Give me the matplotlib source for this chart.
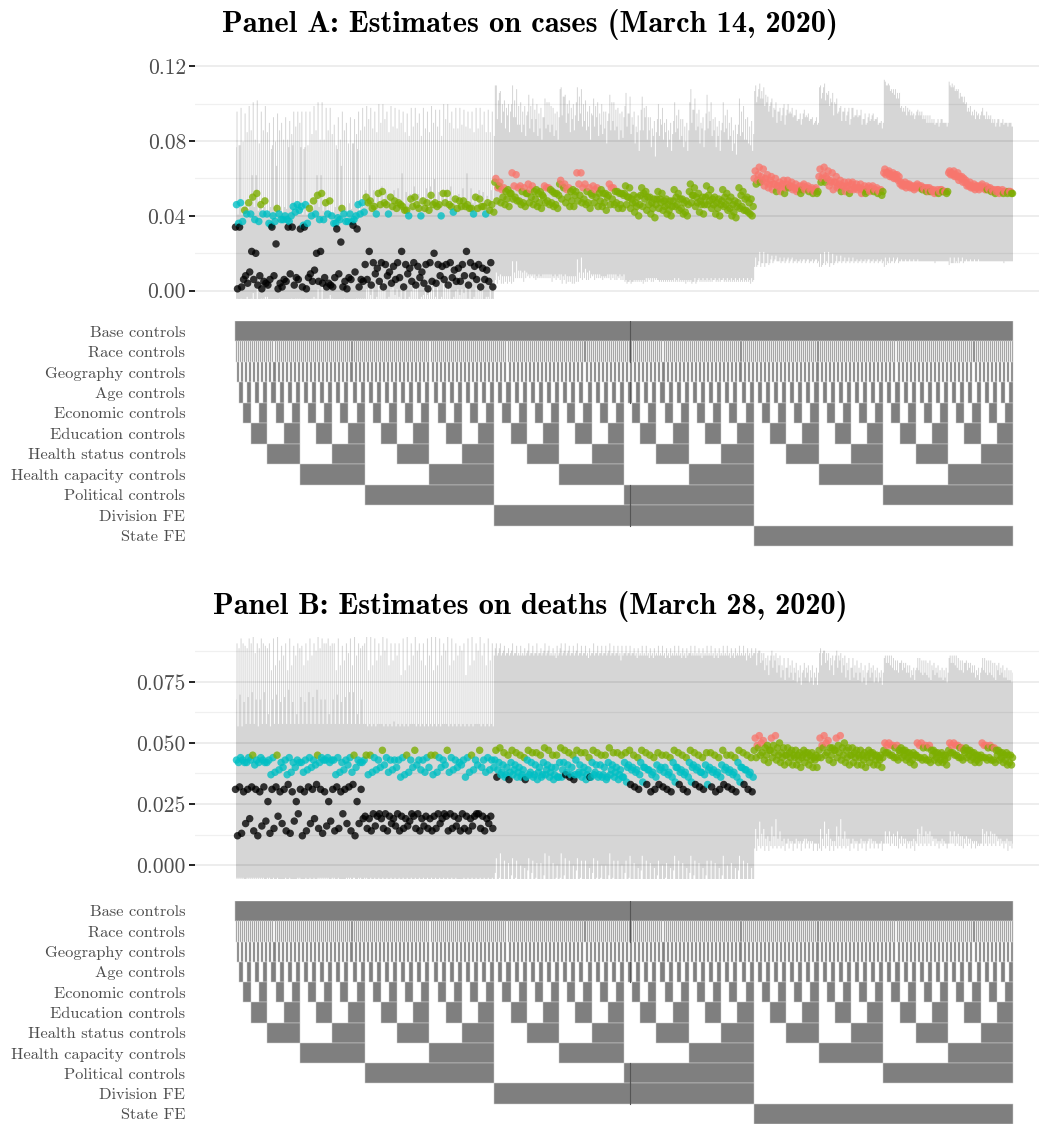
import numpy as np
import matplotlib.pyplot as plt

plt.rcParams["axes.unicode_minus"] = False

# ---------------- labels ----------------
controls = ["Base controls", "Race controls", "Geography controls", "Age controls",
            "Economic controls", "Education controls", "Health status controls",
            "Health capacity controls", "Political controls", "Division FE", "State FE"]
titles = ["Panel A: Estimates on cases (March 14, 2020)",
          "Panel B: Estimates on deaths (March 28, 2020)"]
ticks_a = [0.00, 0.04, 0.08, 0.12]
ticklabels_a = ["0.00", "0.04", "0.08", "0.12"]
minor_a = [0.02, 0.06, 0.10]
ticks_b = [0.000, 0.025, 0.050, 0.075]
ticklabels_b = ["0.000", "0.025", "0.050", "0.075"]
minor_b = [0.0125, 0.0375, 0.0625, 0.0875]

sig_colors = {"k": "#000000", "b": "#00BFC4", "g": "#7CAE00", "r": "#F8766D"}

# ---------------- data (x1000) ----------------
# each third (no FE / Division FE / State FE) has 256 specs; specs cycle through
# (no race, no geo), (race), (geo), (race + geo) -> four sub-lists of 64
# est = point estimate, ci = half width of 95% interval, sig = k/b/g/r (n.s., 10%, 5%, 1%)

a1_est = [
    [34,34,6,4,21,20,8,5,3,34,25,4,6,34,34,7,
     33,34,7,5,20,21,7,4,2,33,26,5,7,35,33,6,
     14,21,15,12,15,14,10,13,15,21,14,12,15,13,10,14,
     15,20,14,13,14,15,11,12,14,21,15,13,14,12,11,15],
    [46,47,43,47,50,52,46,48,36,40,44,38,40,37,45,46,
     45,46,44,48,51,52,47,48,36,39,44,37,41,38,46,47,
     50,48,45,52,53,46,50,48,47,45,43,49,50,44,48,47,
     51,47,46,52,52,45,49,48,48,46,44,50,49,45,47,46],
    [1,2,8,10,6,3,1,4,6,8,1,2,5,9,3,6,
     2,1,9,11,5,4,2,3,7,9,2,1,6,10,2,5,
     6,3,9,5,2,8,4,6,7,2,9,5,3,7,4,1,
     5,4,8,6,3,7,5,5,8,3,8,6,2,6,5,2],
    [36,37,41,41,38,37,41,41,35,37,41,38,38,40,42,43,
     35,36,40,41,38,38,41,40,36,38,41,37,37,40,41,42,
     47,44,41,46,47,41,45,44,46,43,40,45,46,40,44,43,
     46,45,40,47,46,42,44,45,45,44,41,44,45,41,43,42],
]
a1_ci = [
    [43,44,39,40,41,42,39,40,39,44,42,40,39,43,44,40,
     44,43,40,39,42,41,40,39,40,43,41,39,40,44,43,39,
     40,41,39,40,41,39,40,41,40,42,39,40,41,39,40,41,
     41,40,39,41,40,41,39,40,41,42,40,39,40,41,40,39],
    [50,51,52,52,51,50,50,51,54,53,51,52,53,54,51,50,
     51,50,52,51,50,49,51,50,53,54,52,53,52,54,50,51,
     49,50,51,48,47,50,49,50,50,51,52,49,48,51,50,49,
     48,50,51,48,48,51,49,50,49,50,52,48,49,51,50,50],
    [40,39,38,37,39,40,41,38,39,37,41,40,39,36,40,39,
     39,40,37,36,40,39,41,39,38,36,40,41,38,35,41,40,
     41,42,38,40,43,39,41,40,39,43,38,40,42,39,41,43,
     40,41,39,41,42,40,40,41,38,42,39,40,43,40,41,42],
    [42,43,44,45,43,42,45,44,41,43,45,43,43,44,46,47,
     41,42,44,45,43,43,45,44,42,43,45,42,42,44,45,46,
     45,43,44,44,45,44,43,43,44,42,43,43,44,43,43,42,
     44,43,43,45,44,45,43,44,43,43,44,43,44,44,42,41],
]
a1_sig = [
    "kkkkkkkkkkkkkkkk kkkkkkkkkkkkkkkk kkkkkkkkkkkkkkkk kkkkkkkkkkkkkkkk",
    "bbggggggbbgbbbbb bbggggggbbgbbbbb gggggggggggggggg gggggggggggggggg",
    "kkkkkkkkkkkkkkkk kkkkkkkkkkkkkkkk kkkkkkkkkkkkkkkk kkkkkkkkkkkkkkkk",
    "bbbbbbbbbbbbbbbb bbbbbbbbbbbbbbbb ggbggbggggbggbgg ggbggbggggbggbgg",
]

a2_est = [
    [58,56,50,49,52,50,48,47,52,50,49,47,50,48,47,46,
     57,55,50,48,53,51,49,47,51,50,48,47,51,49,47,46,
     52,50,47,45,51,49,46,44,49,47,45,43,48,46,44,42,
     53,51,47,46,50,48,46,44,48,46,44,42,47,45,43,41],
    [60,58,55,54,63,62,56,55,57,56,54,53,56,55,53,52,
     59,57,55,54,63,63,57,55,56,55,54,52,57,55,53,52,
     56,55,51,50,55,53,50,49,53,52,49,48,54,52,49,48,
     57,55,52,50,56,54,50,49,54,52,50,48,55,53,50,49],
    [48,47,46,45,49,48,46,45,47,46,45,44,47,46,45,44,
     49,47,45,45,48,47,46,44,47,45,45,43,46,46,44,44,
     46,44,42,40,45,43,41,39,44,43,41,40,45,43,41,40,
     47,45,42,41,46,44,41,40,45,43,40,39,44,43,42,40],
    [55,54,53,52,56,55,53,52,54,53,52,51,55,54,52,51,
     56,54,53,51,57,55,53,52,54,52,52,50,55,53,52,51,
     50,49,47,46,52,50,47,46,49,48,46,45,50,49,47,46,
     51,50,48,46,51,49,47,46,50,48,46,45,51,49,47,45],
]
a2_ci = [
    [52,50,46,45,48,43,41,42,44,42,43,40,43,41,42,40,
     51,49,45,44,48,44,42,41,43,43,41,40,44,42,41,40,
     47,45,42,40,46,44,40,39,43,42,40,38,43,41,39,38,
     48,46,41,41,45,43,40,39,42,41,39,37,42,40,38,37],
    [50,49,47,46,47,46,45,44,48,47,46,45,47,46,45,44,
     50,48,47,46,46,45,45,44,47,46,46,44,48,46,45,44,
     50,49,45,44,49,46,43,42,47,46,43,42,47,45,43,42,
     51,48,45,43,49,47,43,42,47,45,43,41,48,46,43,42],
    [44,43,41,40,44,41,39,38,40,39,38,37,40,39,38,37,
     45,43,40,41,43,41,40,37,41,38,39,36,40,40,37,38,
     42,40,37,35,41,38,36,33,39,38,36,35,40,38,36,35,
     43,41,37,36,41,39,36,35,40,38,35,34,39,38,37,35],
    [47,46,45,44,46,44,43,42,45,44,43,42,46,45,43,42,
     48,46,45,43,47,45,43,43,45,43,44,41,46,44,43,42,
     45,44,41,40,46,43,40,39,43,42,40,39,44,43,41,40,
     46,45,42,40,45,43,41,40,44,42,40,39,45,43,41,39],
]
a2_sig = [
    "gggggggggggggggg gggggggggggggggg gggggggggggggggg gggggggggggggggg",
    "rrrgrrrrrrggrrgg rrrgrrrrrrggrrgg gggggggggggggggg gggggggggggggggg",
    "gggggggggggggggg gggggggggggggggg gggggggggggggggg gggggggggggggggg",
    "rrggrrggrgggrggg rrggrrggrgggrggg gggggggggggggggg gggggggggggggggg",
]

a3_est = [
    [60,62,59,58,59,57,56,57,57,56,55,54,56,55,54,54,
     61,62,60,58,58,57,56,56,57,55,55,54,55,55,54,53,
     63,63,61,60,57,56,56,55,56,55,54,53,53,53,54,53,
     63,62,61,60,58,56,55,55,56,54,54,53,54,53,53,53],
    [64,66,65,62,61,60,58,59,59,58,57,56,57,56,55,55,
     65,66,64,63,61,59,58,58,58,57,57,56,56,56,55,54,
     65,64,63,62,58,58,57,56,57,56,55,55,54,54,54,53,
     64,64,63,61,59,58,57,56,57,56,55,54,54,54,53,53],
    [57,58,56,55,54,53,53,52,55,54,53,52,54,53,52,52,
     58,58,56,54,55,53,53,52,54,54,52,52,53,53,52,51,
     62,61,60,59,56,55,55,54,55,54,53,53,52,52,53,52,
     62,61,59,58,56,55,54,54,55,54,53,52,52,52,52,52],
    [59,61,60,57,57,56,55,55,56,55,54,54,55,54,53,53,
     60,61,59,58,56,56,55,54,55,55,54,53,54,54,53,53,
     63,62,62,61,57,57,56,55,56,55,55,54,53,53,53,53,
     63,62,61,60,57,56,56,55,55,55,54,53,53,53,53,52],
]
a3_ci = [
    [47,46,44,43,42,40,40,41,40,39,39,38,39,38,38,37,
     48,47,45,43,42,41,40,40,41,39,39,38,38,39,38,37,
     50,48,45,43,41,40,40,39,40,39,38,37,37,37,38,37,
     49,47,46,44,42,40,39,39,40,38,38,37,38,37,37,37],
    [46,45,44,42,42,41,40,41,41,40,40,39,40,39,38,38,
     45,45,43,43,42,40,40,40,40,40,40,39,39,39,38,37,
     47,46,45,44,41,41,40,39,40,40,39,39,38,38,38,37,
     46,46,45,43,42,41,40,39,41,40,39,38,38,38,37,37],
    [44,45,43,41,39,37,38,37,40,39,38,37,39,38,37,37,
     45,44,43,40,40,38,38,37,39,39,37,37,38,38,37,36,
     48,46,45,44,40,39,39,38,39,38,37,37,37,36,37,36,
     47,46,44,43,40,39,38,38,39,38,37,36,36,37,36,36],
    [45,46,45,42,41,40,39,39,40,39,38,38,39,38,37,37,
     46,45,44,43,40,40,39,38,39,39,38,37,38,38,37,37,
     47,46,46,45,41,41,40,39,40,39,39,38,37,37,37,37,
     48,46,45,44,41,40,40,39,39,39,38,37,37,37,37,36],
]
a3_sig = [
    "rrrrrrrrrrrrrrrr rrrrrrrrrrrrrrrr rrrrrrrrrrrrrrrr rrrrrrrrrrrrrrrr",
    "rrrrrrrrrrrrrrrr rrrrrrrrrrrrrrrr rrrrrrrrrrrrrrrr rrrrrrrrrrrrrrrr",
    "ggrrrgrggrrgrggg ggrrrgrgrrrgrggg rrrrrrrrrgggrggg rrrrrrrrrgggrggg",
    "rrrrrrrrrrrgrrrg rrrrrrrrrrrgrrrg rrrrrrrrrrrrrrgg rrrrrrrrrrrrrrgg",
]

b1_est = [
    [31,32,30,31,32,31,30,32,26,31,32,30,31,33,30,26,
     31,30,32,31,33,31,30,26,31,32,30,31,32,33,26,31,
     20,19,21,20,19,21,20,19,21,20,19,18,20,21,19,20,
     19,20,21,19,20,21,20,19,21,20,19,20,21,20,19,20],
    [43,44,42,44,45,43,44,42,43,44,45,42,43,44,42,43,
     42,43,44,43,45,44,43,42,43,44,42,43,44,45,43,42,
     45,45,44,43,47,44,43,43,43,44,45,43,47,43,43,44,
     45,45,44,43,47,44,43,42,43,44,45,43,47,43,44,43],
    [12,13,17,19,14,12,16,18,13,15,20,17,14,13,18,21,
     12,14,17,19,15,13,16,18,14,15,21,17,14,12,17,19,
     15,14,16,21,15,14,17,16,14,15,16,21,15,14,16,15,
     14,15,17,21,14,15,16,14,15,14,16,21,15,14,17,15],
    [42,43,42,43,41,42,43,42,37,38,39,40,37,38,40,42,
     38,39,40,41,42,43,44,43,37,38,39,41,38,40,42,43,
     37,38,39,40,41,38,39,40,36,37,38,40,41,39,38,40,
     37,38,40,41,38,39,40,41,36,38,39,41,40,38,39,40],
]
b1_ci = [
    [37,38,37,38,39,37,38,39,36,37,38,37,38,39,37,36,
     38,37,39,38,39,37,38,36,37,38,37,38,39,38,36,37,
     38,39,37,38,39,37,38,40,37,38,39,40,38,37,39,38,
     39,38,37,39,38,37,38,39,37,38,39,38,37,38,39,38],
    [48,49,48,49,50,48,49,48,48,49,50,48,48,49,48,48,
     48,48,49,48,50,49,48,48,48,49,48,48,49,50,48,48,
     50,50,49,48,52,49,48,48,48,49,50,48,52,48,48,49,
     50,50,49,48,52,49,48,48,48,49,50,48,52,48,49,48],
    [45,44,41,39,44,45,42,40,44,43,38,41,44,45,40,37,
     46,44,41,39,43,45,42,40,44,43,37,41,44,46,41,39,
     42,43,41,37,42,43,40,41,43,42,41,37,42,43,41,42,
     43,42,40,37,43,42,41,43,42,43,41,37,42,43,40,42],
    [47,48,47,48,46,47,48,47,43,44,45,46,43,44,46,47,
     44,45,46,47,47,48,49,48,43,44,45,46,44,46,47,48,
     43,44,45,46,47,44,45,46,42,43,44,46,47,45,44,46,
     43,44,46,47,44,45,46,47,42,44,45,47,46,44,45,46],
]
b1_sig = [
    "kkkkkkkkkkkkkkkk kkkkkkkkkkkkkkkk kkkkkkkkkkkkkkkk kkkkkkkkkkkkkkkk",
    "bbbbgbbbbbgbbbbb bbbbgbbbbbbbbgbb ggbbgbbbbbgbgbbb ggbbgbbbbbgbgbbb",
    "kkkkkkkkkkkkkkkk kkkkkkkkkkkkkkkk kkkkkkkkkkkkkkkk kkkkkkkkkkkkkkkk",
    "bbbbbbbbbbbbbbbb bbbbbbbbbbbbbbbb bbbbbbbbbbbbbbbb bbbbbbbbbbbbbbbb",
]

b2_est = [
    [43,42,41,40,42,41,40,39,43,42,41,40,42,41,40,40,
     42,42,41,40,43,41,40,39,42,41,41,40,42,41,40,39,
     42,41,40,39,42,40,39,38,41,40,40,38,42,40,39,38,
     42,41,40,38,41,40,39,38,41,40,39,38,42,40,39,38],
    [47,48,46,45,47,46,45,44,47,46,46,45,48,47,45,45,
     48,47,46,45,47,46,46,44,47,46,45,45,48,46,46,45,
     46,47,45,44,47,46,45,44,46,45,45,44,47,46,45,44,
     47,46,45,44,46,46,45,44,47,45,45,44,47,46,45,44],
    [36,37,36,35,37,36,36,35,37,36,35,36,37,36,35,36,
     36,37,36,35,37,36,35,36,37,36,36,35,37,36,35,36,
     34,33,32,31,34,33,30,31,33,32,31,30,34,33,31,30,
     34,33,32,31,33,32,30,31,33,32,31,30,34,33,31,30],
    [39,38,37,38,39,38,37,36,38,37,38,37,39,38,37,36,
     39,38,37,37,38,38,37,36,38,37,37,36,39,38,37,36,
     40,39,38,37,40,39,37,36,39,38,37,36,40,38,37,36,
     40,39,38,37,39,38,37,36,39,38,37,36,40,39,37,36],
]
b2_ci = [
    [46,47,47,47,46,46,46,47,45,45,46,47,46,47,46,45,
     47,46,47,47,45,46,47,46,45,46,46,47,46,46,47,45,
     45,46,47,46,44,46,46,47,45,46,45,47,44,46,46,47,
     45,45,46,47,45,46,46,47,45,46,46,47,44,46,45,47],
    [44,43,44,44,44,44,45,45,44,44,45,44,43,43,44,45,
     43,44,44,45,44,44,44,45,44,44,45,45,43,44,44,45,
     44,43,44,45,43,44,44,45,44,45,44,45,43,44,44,45,
     43,44,44,45,44,44,44,45,43,45,44,45,43,44,44,45],
    [50,49,50,51,49,50,50,51,49,50,51,50,49,50,51,50,
     50,49,50,51,49,50,51,50,49,50,50,51,49,50,51,50,
     52,53,54,55,52,53,56,55,53,54,55,56,52,53,55,56,
     52,53,54,55,53,54,56,55,53,54,55,56,52,53,55,56],
    [48,49,50,49,48,49,50,51,49,50,49,50,48,49,50,51,
     48,49,50,50,49,49,50,51,49,50,50,51,48,49,50,51,
     47,48,49,50,47,48,50,51,48,49,50,51,47,49,50,51,
     47,48,49,50,48,49,50,51,48,49,50,51,47,48,50,51],
]
b2_sig = [
    "bbbbbbbbbbbbbbbb bbbbbbbbbbbbbbbb bbbbbbbbbbbbbbbb bbbbbbbbbbbbbbbb",
    "gggggggggggggggg gggggggggggggggg gggggggggggggggg gggggggggggggggg",
    "kbbkbbbkbbbbbbbb bkkkbbbkbbbbbbbb bkkkbkkkkkkkbkkk bkkkbkkkkkkkbkkk",
    "bbbbbbbbbbbbbbbb bbbbbbbbbbbbbbbb bbbbbbbbbbbbbbbb bbbbbbbbbbbbbbbb",
]

b3_est = [
    [47,48,46,45,47,46,45,44,45,44,44,43,45,44,43,43,
     47,48,46,45,47,46,45,44,45,44,44,43,45,44,43,43,
     47,46,45,44,46,45,44,43,45,44,44,43,45,44,43,43,
     47,46,45,44,46,45,44,43,45,44,44,43,45,44,43,42],
    [52,53,51,49,52,53,50,48,48,47,47,46,47,46,46,45,
     52,53,51,48,52,53,50,48,48,47,47,46,47,46,45,45,
     50,50,49,49,48,47,46,46,50,50,49,49,47,46,46,45,
     50,50,49,48,48,47,46,45,50,49,49,48,47,46,46,45],
    [44,45,43,42,44,43,42,41,42,41,41,40,42,41,40,40,
     44,45,43,42,44,43,42,41,42,41,41,40,42,41,41,40,
     46,45,44,43,44,43,42,41,44,43,43,42,43,42,42,41,
     46,45,44,43,44,43,42,42,44,43,43,42,43,42,41,41],
    [49,50,48,47,49,48,46,45,46,45,45,44,46,45,44,44,
     49,50,48,47,49,48,47,45,46,45,45,44,46,45,44,44,
     49,49,48,47,47,46,45,45,49,48,48,47,46,45,45,44,
     49,49,48,47,47,46,45,44,49,48,48,47,46,45,45,44],
]
b3_ci = [
    [40,40,38,37,39,38,37,36,36,35,35,34,35,35,34,34,
     40,40,38,37,39,38,37,36,36,35,35,34,35,35,34,34,
     38,37,36,36,37,36,35,35,36,35,35,34,35,35,34,34,
     38,37,36,36,37,36,35,35,36,35,35,34,35,35,34,34],
    [37,35,36,37,36,34,36,37,37,37,36,36,36,36,36,36,
     37,35,36,38,36,34,36,37,37,37,36,36,36,36,36,35,
     36,36,36,35,36,36,36,35,35,34,35,35,36,36,35,36,
     36,36,36,36,36,36,36,36,35,35,35,35,36,36,35,35],
    [38,38,37,36,37,36,35,35,35,35,34,34,35,34,34,34,
     38,38,37,36,37,36,35,35,35,35,34,34,35,34,34,34,
     37,37,36,36,36,36,35,35,36,35,35,34,35,35,34,34,
     37,37,36,36,36,36,35,34,36,35,35,34,35,35,35,34],
    [38,37,37,37,37,37,36,36,36,36,35,35,35,35,35,35,
     38,37,37,37,37,37,36,36,36,36,35,35,35,35,35,35,
     37,37,36,36,36,36,35,35,36,36,35,35,35,35,35,35,
     37,37,36,36,36,36,35,35,36,36,35,35,35,35,35,35],
]
b3_sig = [
    "gggggggggggggggg gggggggggggggggg gggggggggggggggg gggggggggggggggg",
    "rrrgrrgggggggggg rrrgrrgggggggggg rrrrggggrrrrgggg rrrrggggrrrrgggg",
    "gggggggggggggggg gggggggggggggggg gggggggggggggggg gggggggggggggggg",
    "rrgggggggggggggg rrgggggggggggggg rrggggggrggggggg rrggggggrggggggg",
]


def interleave(parts):
    # four sub-series -> spec order
    return np.array(parts).T.ravel()


def build(est_parts, ci_parts, sig_parts):
    est = np.concatenate([interleave(p) for p in est_parts]) / 1000
    ci = np.concatenate([interleave(p) for p in ci_parts]) / 1000
    sig = np.concatenate([interleave([list(s.replace(" ", "")) for s in p]) for p in sig_parts])
    return est, ci, sig


# which controls each spec uses (binary ordering inside each FE third)
n_third = 256
spec = np.arange(3 * n_third)
inner = spec % n_third
fe = spec // n_third
incl = np.column_stack([np.ones_like(spec)] + [(inner >> b) & 1 for b in range(8)]
                       + [fe == 1, fe == 2]).astype(int)
seam_spec = 389

# ---------------- layout ----------------
W, H = 1039, 1124
fig = plt.figure(figsize=(W / 100, H / 100), dpi=100)


def box(left, top, right, bottom):
    return [left / W, 1 - bottom / H, (right - left) / W, (bottom - top) / H]


px = (1012.5 - 235.5) / 767
xlim = (-(235.5 - 195) / px, 767 + (1039 - 1012.5) / px)
label_color = "#4d4d4d"


def draw_estimates(ax, est, ci, sig, ylim, ticks, labels, minor):
    x = np.arange(len(est))
    # one column per specification, from lower to upper bound
    ax.fill_between(x, est - ci, est + ci, step="mid", color="#d6d6d6",
                    linewidth=0, zorder=1)
    for y in ticks:
        ax.axhline(y, color="black", alpha=0.09, lw=1.1, zorder=2)
    for y in minor:
        ax.axhline(y, color="black", alpha=0.06, lw=0.9, zorder=2)
    ax.scatter(x, est, s=29, c=[sig_colors[s] for s in sig], alpha=0.78,
               linewidths=0, zorder=3)
    ax.set_xlim(*xlim)
    ax.set_ylim(*ylim)
    ax.set_xticks([])
    ax.set_yticks(ticks)
    ax.set_yticklabels(labels, fontfamily="cmr10", fontsize=15.5, color=label_color)
    ax.tick_params(axis="y", length=4, width=1.4, color="#222222", pad=2.5)
    for s in ax.spines.values():
        s.set_visible(False)


def draw_controls(ax):
    n = len(controls)
    for k in range(n):
        on = incl[:, k]
        edges = np.flatnonzero(np.diff(np.r_[0, on, 0]))
        runs = [(s - 0.5, e - s) for s, e in zip(edges[::2], edges[1::2])]
        ax.broken_barh(runs, (n - 1 - k, 1), facecolors="#7f7f7f",
                       edgecolors="#d0d0d0", linewidth=0.35)
        if incl[seam_spec, k]:
            ax.plot([seam_spec + 0.5] * 2, [n - 1 - k, n - k], color="#555555", lw=0.8)
    ax.set_xlim(*xlim)
    ax.set_ylim(0, n)
    ax.set_xticks([])
    ax.set_yticks([n - 0.5 - k for k in range(n)])
    ax.set_yticklabels(controls, fontfamily="cmr10", fontsize=11.8, color=label_color)
    ax.tick_params(axis="y", length=0, pad=7)
    for s in ax.spines.values():
        s.set_visible(False)


panel_a = build([a1_est, a2_est, a3_est], [a1_ci, a2_ci, a3_ci], [a1_sig, a2_sig, a3_sig])
panel_b = build([b1_est, b2_est, b3_est], [b1_ci, b2_ci, b3_ci], [b1_sig, b2_sig, b3_sig])

ax = fig.add_axes(box(195, 55, 1039, 298))
draw_estimates(ax, *panel_a, (-0.0039, 0.126), ticks_a, ticklabels_a, minor_a)
draw_controls(fig.add_axes(box(195, 321, 1039, 546)))

ax = fig.add_axes(box(195, 637, 1039, 878))
draw_estimates(ax, *panel_b, (-0.0053, 0.0934), ticks_b, ticklabels_b, minor_b)
draw_controls(fig.add_axes(box(195, 901, 1039, 1124)))

fig.text(529.5 / W, 1 - 25 / H, titles[0], ha="center", va="center",
         fontfamily="cmb10", fontsize=21.9)
fig.text(530 / W, 1 - 607 / H, titles[1], ha="center", va="center",
         fontfamily="cmb10", fontsize=21.9)

fig.savefig("out.png", dpi=100)
